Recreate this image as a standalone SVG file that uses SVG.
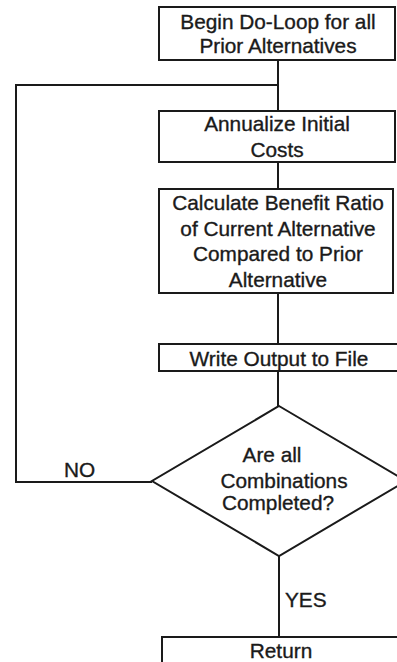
<svg xmlns="http://www.w3.org/2000/svg" width="397" height="662" viewBox="0 0 397 662">
<style>
.box{fill:#fff;stroke:#1a1a1a;stroke-width:2}
.ln{fill:none;stroke:#1a1a1a;stroke-width:2}
text{font-family:"Liberation Sans",Arial,sans-serif;font-size:20.8px;fill:#1a1a1a;stroke:#1a1a1a;stroke-width:0.35;text-anchor:middle}
.lbl{text-anchor:start}
</style>
<rect width="397" height="662" fill="#fff"/>
<g id="connectors">
<path class="ln" d="M278,60 V111 M278,162 V189 M278,293 V344 M278,371 V406 M279,556 V637"/>
<path class="ln" d="M278,85 H16 V482 H152"/>
<text class="lbl" x="64" y="477">NO</text>
<text class="lbl" x="285" y="607">YES</text>
</g>
<g id="begin">
<rect class="box" x="159" y="7" width="236" height="53"/>
<text x="278" y="29">Begin Do-Loop for all</text>
<text x="278" y="53">Prior Alternatives</text>
</g>
<g id="annualize">
<rect class="box" x="159" y="111" width="236" height="51"/>
<text x="277" y="131">Annualize Initial</text>
<text x="277" y="157">Costs</text>
</g>
<g id="calculate">
<rect class="box" x="159" y="189" width="234" height="104"/>
<text x="278" y="210">Calculate Benefit Ratio</text>
<text x="278" y="236">of Current Alternative</text>
<text x="278" y="261">Compared to Prior</text>
<text x="278" y="287">Alternative</text>
</g>
<g id="write">
<rect class="box" x="159" y="344" width="242" height="27"/>
<text x="279" y="366">Write Output to File</text>
</g>
<g id="decision">
<polygon class="box" points="279,406 406,481 279,556 152,481"/>
<text x="272" y="462">Are all</text>
<text x="284" y="488">Combinations</text>
<text x="278" y="510">Completed?</text>
</g>
<g id="return">
<rect class="box" x="162" y="637" width="240" height="30"/>
<text x="281" y="658">Return</text>
</g>
</svg>
